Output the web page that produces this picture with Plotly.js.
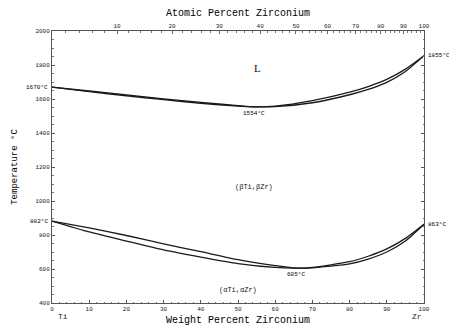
<!DOCTYPE html>
<html><head><meta charset="utf-8">
<script src="https://cdn.plot.ly/plotly-3.0.1.min.js"></script>
<style>html,body{margin:0;padding:0;background:#fff}#c{width:449px;height:335px}</style>
</head><body><div id="c"></div>
<script>
// Liquidus / solidus (weight % Zr, °C)
var liqWt  = [0, 10, 20, 30, 40, 50, 54.4, 60, 70, 80, 85, 90, 95, 100];
var liqT   = [1670, 1647, 1624, 1601, 1580, 1561, 1554, 1558, 1590, 1640, 1673, 1715, 1776, 1855];
var solWt  = [0, 10, 20, 30, 40, 50, 54.4, 60, 70, 80, 85, 90, 95, 100];
var solT   = [1670, 1643, 1619, 1596, 1575, 1558, 1554, 1555, 1578, 1625, 1656, 1698, 1762, 1855];
// beta transus (upper) and alpha transus (lower)
var betaWt  = [0, 10, 20, 30, 40, 50, 60, 65.6, 70, 80, 85, 90, 95, 100];
var betaT   = [882, 842, 797, 748, 702, 655, 620, 605, 610, 643, 675, 718, 780, 863];
var alphaWt = [0, 10, 20, 30, 40, 50, 60, 65.6, 70, 80, 85, 90, 95, 100];
var alphaT  = [882, 818, 764, 712, 670, 632, 609, 605, 607, 630, 658, 700, 765, 863];
// axis ticks
var wtTicks = [0,10,20,30,40,50,60,70,80,90,100];
var yTicks = [400,600,800,1000,1200,1400,1600,1800,2000];
var atTicks = [10,20,30,40,50,60,70,80,90,100];
var atMinor = [];
for (var a = 2; a < 100; a += 2) atMinor.push(a);
var MZr = 91.224, MTi = 47.867;
function at2wt(a){ return a*MZr/(a*MZr + (100-a)*MTi)*100; }

function curve(xs, ys){
  return {x: xs, y: ys, mode:'lines', line:{color:'#1a1a1a', width:1.3, shape:'spline', smoothing:0.6},
          hoverinfo:'skip', showlegend:false};
}
var traces = [
  curve(liqWt, liqT), curve(solWt, solT), curve(betaWt, betaT), curve(alphaWt, alphaT),
  {x:[0,100], y:[400,400], xaxis:'x2', mode:'lines', line:{width:0}, hoverinfo:'skip', showlegend:false},
  {x:[0,100], y:[400,400], xaxis:'x3', mode:'lines', line:{width:0}, hoverinfo:'skip', showlegend:false}
];

var mono = 'Liberation Mono, Courier New, monospace';
var tf = {family: mono, size: 6, color:'#222'};
var lab = {family: mono, size: 6, color:'#000'};
var layout = {
  width: 449, height: 335,
  margin: {l:52, r:25, t:31, b:32},
  paper_bgcolor:'#fff', plot_bgcolor:'#fff',
  font: {family: mono, color:'#222'},
  xaxis: {range:[0,100], tickvals: wtTicks, ticks:'inside', ticklen:3, tickcolor:'#555',
          showline:true, linecolor:'#555', linewidth:1, showgrid:false, zeroline:false,
          tickfont: tf, minor:{dtick:2, ticks:'inside', ticklen:1.5, tickcolor:'#777'},
          title:{text:'Weight Percent Zirconium', font:{family:mono, size:10, color:'#000'}, standoff:3}},
  xaxis2: {overlaying:'x', side:'top', range:[0,100], tickvals: atTicks.map(at2wt), ticktext: atTicks.map(String),
           ticks:'inside', ticklen:3, tickcolor:'#555', showline:true, linecolor:'#555', linewidth:1,
           showgrid:false, zeroline:false, tickfont: tf,
           title:{text:'Atomic Percent Zirconium', font:{family:mono, size:10, color:'#000'}, standoff:4}},
  xaxis3: {overlaying:'x', side:'top', range:[0,100], tickvals: atMinor.map(at2wt), showticklabels:false,
           ticks:'inside', ticklen:1.5, tickcolor:'#777', showline:false, showgrid:false, zeroline:false},
  yaxis: {range:[400,2000], tickvals: yTicks, ticks:'inside', ticklen:3, tickcolor:'#555',
          showline:true, linecolor:'#555', linewidth:1, mirror:'ticks', showgrid:false, zeroline:false,
          tickfont: tf, minor:{dtick:50, ticks:'inside', ticklen:1.5, tickcolor:'#777'},
          title:{text:'Temperature °C', font:{family:mono, size:9, color:'#000'}, standoff:16}},
  annotations: [
    {xref:'paper', yref:'y', x:0, y:1670, xanchor:'right', xshift:-2, text:'1670°C', showarrow:false, font:lab},
    {xref:'paper', yref:'y', x:0, y:882, xanchor:'right', xshift:-2, text:'882°C', showarrow:false, font:lab},
    {xref:'paper', yref:'y', x:1, y:1855, xanchor:'left', xshift:2, text:'1855°C', showarrow:false, font:lab},
    {xref:'paper', yref:'y', x:1, y:863, xanchor:'left', xshift:2, text:'863°C', showarrow:false, font:lab},
    {x:54.4, y:1554, yshift:-7, text:'1554°C', showarrow:false, font:lab},
    {x:65.6, y:605, yshift:-6, text:'605°C', showarrow:false, font:lab},
    {x:55.3, y:1780, text:'L', showarrow:false, font:{family:'Liberation Serif, serif', size:11, color:'#111'}},
    {x:54.3, y:1080, text:'(βTi,βZr)', showarrow:false, font:{family:mono,size:7,color:'#111'}},
    {x:50, y:475, text:'(αTi,αZr)', showarrow:false, font:{family:mono,size:7,color:'#111'}},
    {xref:'paper', yref:'paper', x:0, y:0, xshift:4, yshift:-20, text:'Ti', showarrow:false, font:{family:mono,size:8,color:'#222'}},
    {xref:'paper', yref:'paper', x:1, y:0, yshift:-20, text:'Zr', showarrow:false, font:{family:mono,size:8,color:'#222'}}
  ]
};
Plotly.newPlot('c', traces, layout, {staticPlot:true, displayModeBar:false});
</script></body></html>
